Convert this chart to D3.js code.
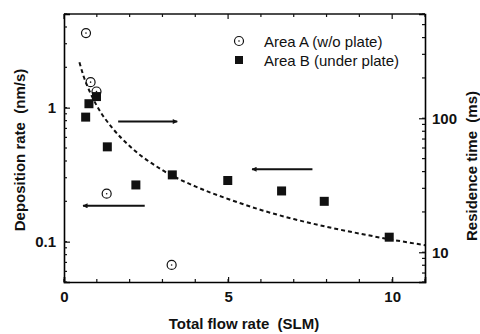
<!DOCTYPE html>
<html>
<head>
<meta charset="utf-8">
<script src="https://cdn.jsdelivr.net/npm/d3@7"></script>
<style>
  body { margin: 0; background: #fff; }
  text { font-family: "Liberation Sans", Arial, sans-serif; fill: #111; white-space: pre; }
</style>
</head>
<body>
<script>
// Area A (w/o plate), open circles
const areaAFlow = [0.67, 0.81, 0.99, 1.30, 3.28];
const areaARate = [3.6, 1.55, 1.32, 0.228, 0.067];

// Area B (under plate), filled squares
const areaBFlow = [0.66, 0.76, 0.99, 1.32, 2.19, 3.30, 4.99, 6.63, 7.93, 9.91];
const areaBRate = [0.85, 1.07, 1.21, 0.51, 0.265, 0.315, 0.286, 0.239, 0.20, 0.108];

// residence time curve (right axis)
const timeFlow = [0.47, 0.6, 0.8, 1, 1.5, 2, 3, 4, 5, 6, 7, 8, 9, 10, 11];
const timeMs = [262, 205, 155, 124, 83, 62, 41, 31, 25, 20.7, 17.7, 15.5, 13.8, 12.4, 11.3];

const xTicks = [0, 5, 10];
const leftTicks = [0.1, 1];
const rightTicks = [10, 100];

const width = 480, height = 334;
const m = { left: 64, right: 55, top: 14, bottom: 52 };
const iw = width - m.left - m.right, ih = height - m.top - m.bottom;

const svg = d3.select('body').append('svg')
    .attr('width', width)
    .attr('height', height);

const g = svg.append('g').attr('transform', `translate(${m.left},${m.top})`);

const x = d3.scaleLinear().domain([0, 11]).range([0, iw]);
const yL = d3.scaleLog().domain([0.05, 5]).range([ih, 0]);
const yR = d3.scaleLog().domain([6, 600]).range([ih, 0]);

// log minor ticks
function logTicks(lo, hi) {
    const out = [];
    for (let e = -3; e <= 4; e++) {
        for (let k = 1; k < 10; k++) {
            const v = k * Math.pow(10, e);
            if (v >= lo * 0.999 && v <= hi * 1.001) out.push(v);
        }
    }
    return out;
}

const tickStyle = sel => sel.attr('stroke', '#111').attr('stroke-width', 1.2);

// x axis bottom
const xMinor = d3.range(0, 12, 1);
g.append('g').attr('transform', `translate(0,${ih})`)
    .call(d3.axisBottom(x).tickValues(xTicks).tickSize(-5).tickPadding(9).tickFormat(d3.format('d')))
    .call(a => a.select('.domain').attr('stroke-width', 1.6))
    .call(a => a.selectAll('text').attr('font-size', 15).attr('font-weight', 'bold'));
g.append('g').selectAll('line').data(xMinor).join('line')
    .attr('x1', d => x(d)).attr('x2', d => x(d))
    .attr('y1', ih).attr('y2', ih - 3).call(tickStyle);
// top
g.append('line').attr('x1', 0).attr('x2', iw).attr('y1', 0).attr('y2', 0)
    .attr('stroke', '#111').attr('stroke-width', 1.6);
g.append('g').selectAll('line').data(xMinor).join('line')
    .attr('x1', d => x(d)).attr('x2', d => x(d))
    .attr('y1', 0).attr('y2', d => d % 5 === 0 ? 5 : 3).call(tickStyle);

// left axis
g.append('g')
    .call(d3.axisLeft(yL).tickValues(leftTicks).tickSize(-6).tickPadding(8).tickFormat(d => d))
    .call(a => a.select('.domain').attr('stroke-width', 1.6))
    .call(a => a.selectAll('text').attr('font-size', 15).attr('font-weight', 'bold'));
g.append('g').selectAll('line').data(logTicks(0.05, 5)).join('line')
    .attr('x1', 0).attr('x2', 3)
    .attr('y1', d => yL(d)).attr('y2', d => yL(d)).call(tickStyle);

// right axis
g.append('g').attr('transform', `translate(${iw},0)`)
    .call(d3.axisRight(yR).tickValues(rightTicks).tickSize(-6).tickPadding(7).tickFormat(d => d))
    .call(a => a.select('.domain').attr('stroke-width', 1.6))
    .call(a => a.selectAll('text').attr('font-size', 15).attr('font-weight', 'bold'));
g.append('g').selectAll('line').data(logTicks(6, 600)).join('line')
    .attr('x1', iw).attr('x2', iw - 3)
    .attr('y1', d => yR(d)).attr('y2', d => yR(d)).call(tickStyle);

g.selectAll('.tick line').attr('stroke', '#111').attr('stroke-width', 1.2);

// dashed residence-time curve
const line = d3.line()
    .x(d => x(d[0]))
    .y(d => yR(d[1]))
    .curve(d3.curveMonotoneX);
g.append('path')
    .datum(timeFlow.map((f, i) => [f, timeMs[i]]))
    .attr('d', line)
    .attr('fill', 'none')
    .attr('stroke', '#111')
    .attr('stroke-width', 2)
    .attr('stroke-dasharray', '4,3');

// squares
const sq = 9;
g.append('g').selectAll('rect')
    .data(areaBFlow.map((f, i) => [f, areaBRate[i]]))
    .join('rect')
    .attr('x', d => x(d[0]) - sq / 2)
    .attr('y', d => yL(d[1]) - sq / 2)
    .attr('width', sq).attr('height', sq)
    .attr('fill', '#111');

// circles
const circ = g.append('g').selectAll('g')
    .data(areaAFlow.map((f, i) => [f, areaARate[i]]))
    .join('g')
    .attr('transform', d => `translate(${x(d[0])},${yL(d[1])})`);
circ.append('circle').attr('r', 4.5).attr('fill', 'none').attr('stroke', '#111').attr('stroke-width', 1.2);
circ.append('circle').attr('r', 0.8).attr('fill', '#111');

// arrows (flow, left value)
svg.append('defs').append('marker')
    .attr('id', 'head')
    .attr('viewBox', '0 0 10 10')
    .attr('refX', 9).attr('refY', 5)
    .attr('markerWidth', 9).attr('markerHeight', 5)
    .attr('markerUnits', 'userSpaceOnUse')
    .attr('orient', 'auto')
    .append('path').attr('d', 'M0,0 L10,5 L0,10 Z').attr('fill', '#111');

const arrows = [
    { from: 1.65, to: 3.45, rate: 0.787 },
    { from: 2.46, to: 0.58, rate: 0.185 },
    { from: 7.57, to: 5.73, rate: 0.347 }
];
g.append('g').selectAll('line').data(arrows).join('line')
    .attr('x1', d => x(d.from)).attr('x2', d => x(d.to))
    .attr('y1', d => yL(d.rate)).attr('y2', d => yL(d.rate))
    .attr('stroke', '#111').attr('stroke-width', 2)
    .attr('marker-end', 'url(#head)');

// legend
const lg = svg.append('g').attr('transform', 'translate(239,41)');
lg.append('circle').attr('r', 4.5).attr('fill', 'none').attr('stroke', '#111').attr('stroke-width', 1.2);
lg.append('circle').attr('r', 0.8).attr('fill', '#111');
lg.append('text').attr('x', 25).attr('y', 6).attr('font-size', 15).text('Area A (w/o plate)');
lg.append('rect').attr('x', -4).attr('y', 15).attr('width', 8).attr('height', 8).attr('fill', '#111');
lg.append('text').attr('x', 25).attr('y', 25).attr('font-size', 15).text('Area B (under plate)');

// axis titles
svg.append('text')
    .attr('x', 244).attr('y', 329)
    .attr('text-anchor', 'middle')
    .attr('font-size', 15).attr('font-weight', 'bold')
    .text('Total flow rate  (SLM)');
svg.append('text')
    .attr('transform', 'translate(25,150) rotate(-90)')
    .attr('text-anchor', 'middle')
    .attr('font-size', 15).attr('font-weight', 'bold')
    .text('Deposition rate  (nm/s)');
svg.append('text')
    .attr('transform', 'translate(477,166) rotate(-90)')
    .attr('text-anchor', 'middle')
    .attr('font-size', 15).attr('font-weight', 'bold')
    .text('Residence time  (ms)');
</script>
</body>
</html>
